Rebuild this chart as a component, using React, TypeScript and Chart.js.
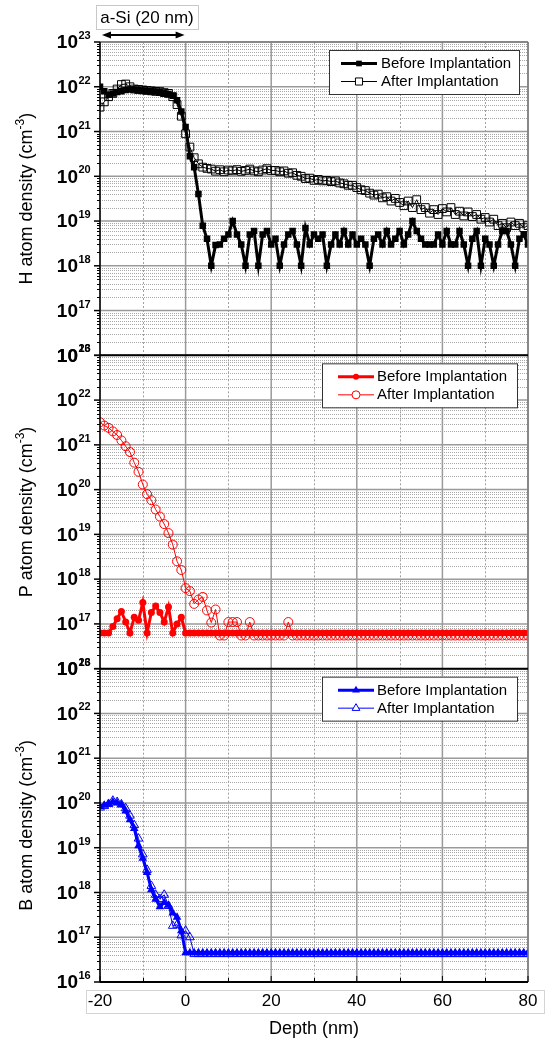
import { useEffect, useRef } from "react";
import { Chart, registerables } from "chart.js";

Chart.register(...registerables);

// ---------------- data ----------------
const depth = [
  -20, -19, -18, -17, -16, -15, -14, -13, -12, -11,
  -10, -9, -8, -7, -6, -5, -4, -3, -2, -1,
  0, 1, 2, 3, 4, 5, 6, 7, 8, 9,
  10, 11, 12, 13, 14, 15, 16, 17, 18, 19,
  20, 21, 22, 23, 24, 25, 26, 27, 28, 29,
  30, 31, 32, 33, 34, 35, 36, 37, 38, 39,
  40, 41, 42, 43, 44, 45, 46, 47, 48, 49,
  50, 51, 52, 53, 54, 55, 56, 57, 58, 59,
  60, 61, 62, 63, 64, 65, 66, 67, 68, 69,
  70, 71, 72, 73, 74, 75, 76, 77, 78, 79,
  80,
];

const hBefore = [
  1.0e22, 7.9e21, 6.6e21, 7.1e21, 7.6e21, 7.9e21, 8.5e21, 8.7e21, 8.7e21, 8.5e21,
  8.3e21, 8.1e21, 7.9e21, 7.8e21, 7.6e21, 7.2e21, 6.9e21, 6.3e21, 5.0e21, 2.8e21,
  1.26e21, 2.8e20, 1.6e20, 4.0e19, 7.9e18, 4.0e18, 1.0e18, 2.9e18, 3e18, 4e18,
  5e18, 1e19, 5e18, 3e18, 1e18, 5e18, 6e18, 1e18, 5e18, 6e18,
  3e18, 4e18, 1e18, 3e18, 5e18, 6e18, 3e18, 1e18, 7e18, 3e18,
  5e18, 4e18, 5e18, 1e18, 3e18, 5e18, 3e18, 6e18, 3e18, 5e18,
  3e18, 4e18, 3e18, 1e18, 4e18, 5e18, 3e18, 6e18, 3e18, 4e18,
  6e18, 3e18, 5e18, 1e19, 6e18, 4e18, 3e18, 3e18, 3e18, 5e18,
  3e18, 6e18, 3e18, 3e18, 6e18, 3e18, 1e18, 4e18, 6e18, 1e18,
  4e18, 3e18, 1e18, 3e18, 6e18, 6e18, 3e18, 1e18, 4e18, 5e18,
  3e18,
];

const hAfter = [
  3.5e21, 4.6e21, 6.0e21, 7.1e21, 8.9e21, 1.12e22, 1.15e22, 1.0e22, 8.9e21, 8.7e21,
  8.5e21, 8.3e21, 8.1e21, 7.9e21, 7.8e21, 7.4e21, 7.1e21, 6.0e21, 4.0e21, 2.2e21,
  8.9e20, 4.5e20, 2.6e20, 1.9e20, 1.6e20, 1.5e20, 1.45e20, 1.3e20, 1.4e20, 1.26e20,
  1.38e20, 1.32e20, 1.41e20, 1.29e20, 1.35e20, 1.45e20, 1.32e20, 1.26e20, 1.38e20, 1.48e20,
  1.35e20, 1.35e20, 1.26e20, 1.32e20, 1.17e20, 1.2e20, 1.05e20, 1.0e20, 8.9e19, 9.1e19,
  8.1e19, 8.5e19, 7.9e19, 8.1e19, 7.6e19, 7.9e19, 7.1e19, 6.8e19, 6.3e19, 6.3e19,
  5.6e19, 5.0e19, 4.8e19, 4.2e19, 3.8e19, 4.0e19, 3.3e19, 3.5e19, 2.8e19, 3.2e19,
  2.6e19, 2.2e19, 2.8e19, 2.0e19, 3.0e19, 1.8e19, 2.0e19, 1.5e19, 1.8e19, 1.4e19,
  1.9e19, 1.6e19, 2.0e19, 1.4e19, 1.66e19, 1.3e19, 1.6e19, 1.26e19, 1.4e19, 1.1e19,
  1.2e19, 9.5e18, 1.1e19, 7.9e18, 8.9e18, 7.1e18, 9.5e18, 7.9e18, 8.9e18, 7.1e18,
  7.9e18,
];

const pBefore = [
  6.3e16, 6.3e16, 6.3e16, 8.7e16, 1.3e17, 1.9e17, 1.1e17, 6.3e16, 1.4e17, 1.2e17,
  3.0e17, 6.3e16, 1.8e17, 2.5e17, 1.8e17, 1.1e17, 2.4e17, 6.3e16, 1.0e17, 1.4e17,
  6.3e16, 6.3e16, 6.3e16, 6.3e16, 6.3e16, 6.3e16, 6.3e16, 6.3e16, 6.3e16, 6.3e16,
  6.3e16, 6.3e16, 6.3e16, 6.3e16, 6.3e16, 6.3e16, 6.3e16, 6.3e16, 6.3e16, 6.3e16,
  6.3e16, 6.3e16, 6.3e16, 6.3e16, 6.3e16, 6.3e16, 6.3e16, 6.3e16, 6.3e16, 6.3e16,
  6.3e16, 6.3e16, 6.3e16, 6.3e16, 6.3e16, 6.3e16, 6.3e16, 6.3e16, 6.3e16, 6.3e16,
  6.3e16, 6.3e16, 6.3e16, 6.3e16, 6.3e16, 6.3e16, 6.3e16, 6.3e16, 6.3e16, 6.3e16,
  6.3e16, 6.3e16, 6.3e16, 6.3e16, 6.3e16, 6.3e16, 6.3e16, 6.3e16, 6.3e16, 6.3e16,
  6.3e16, 6.3e16, 6.3e16, 6.3e16, 6.3e16, 6.3e16, 6.3e16, 6.3e16, 6.3e16, 6.3e16,
  6.3e16, 6.3e16, 6.3e16, 6.3e16, 6.3e16, 6.3e16, 6.3e16, 6.3e16, 6.3e16, 6.3e16,
  6.3e16,
];

const pAfter = [
  3.2e21, 2.7e21, 2.4e21, 2.0e21, 1.66e21, 1.26e21, 9.3e20, 6.9e20, 4.0e20, 2.5e20,
  1.3e20, 7.9e19, 5.8e19, 3.6e19, 2.5e19, 1.7e19, 1.07e19, 5.9e18, 2.5e18, 1.6e18,
  6.3e17, 5.4e17, 2.8e17, 3.5e17, 4.0e17, 2.0e17, 1.07e17, 2.1e17, 5.5e16, 5.5e16,
  1.1e17, 1.1e17, 1.1e17, 5.5e16, 5.5e16, 1.1e17, 5.5e16, 5.5e16, 5.5e16, 5.5e16,
  5.5e16, 5.5e16, 5.5e16, 5.5e16, 1.1e17, 5.5e16, 5.5e16, 5.5e16, 5.5e16, 5.5e16,
  5.5e16, 5.5e16, 5.5e16, 5.5e16, 5.5e16, 5.5e16, 5.5e16, 5.5e16, 5.5e16, 5.5e16,
  5.5e16, 5.5e16, 5.5e16, 5.5e16, 5.5e16, 5.5e16, 5.5e16, 5.5e16, 5.5e16, 5.5e16,
  5.5e16, 5.5e16, 5.5e16, 5.5e16, 5.5e16, 5.5e16, 5.5e16, 5.5e16, 5.5e16, 5.5e16,
  5.5e16, 5.5e16, 5.5e16, 5.5e16, 5.5e16, 5.5e16, 5.5e16, 5.5e16, 5.5e16, 5.5e16,
  5.5e16, 5.5e16, 5.5e16, 5.5e16, 5.5e16, 5.5e16, 5.5e16, 5.5e16, 5.5e16, 5.5e16,
  5.5e16,
];

const bBefore = [
  8.3e19, 8.9e19, 9.5e19, 1.05e20, 1.0e20, 9.1e19, 6.6e19, 4.2e19, 2.7e19, 1.1e19,
  5.8e18, 2.8e18, 1.15e18, 7.1e17, 4.8e17, 6.0e17, 5.2e17, 3.5e17, 2.8e17, 1.4e17,
  4.5e16, 4.5e16, 4.5e16, 4.5e16, 4.5e16, 4.5e16, 4.5e16, 4.5e16, 4.5e16, 4.5e16,
  4.5e16, 4.5e16, 4.5e16, 4.5e16, 4.5e16, 4.5e16, 4.5e16, 4.5e16, 4.5e16, 4.5e16,
  4.5e16, 4.5e16, 4.5e16, 4.5e16, 4.5e16, 4.5e16, 4.5e16, 4.5e16, 4.5e16, 4.5e16,
  4.5e16, 4.5e16, 4.5e16, 4.5e16, 4.5e16, 4.5e16, 4.5e16, 4.5e16, 4.5e16, 4.5e16,
  4.5e16, 4.5e16, 4.5e16, 4.5e16, 4.5e16, 4.5e16, 4.5e16, 4.5e16, 4.5e16, 4.5e16,
  4.5e16, 4.5e16, 4.5e16, 4.5e16, 4.5e16, 4.5e16, 4.5e16, 4.5e16, 4.5e16, 4.5e16,
  4.5e16, 4.5e16, 4.5e16, 4.5e16, 4.5e16, 4.5e16, 4.5e16, 4.5e16, 4.5e16, 4.5e16,
  4.5e16, 4.5e16, 4.5e16, 4.5e16, 4.5e16, 4.5e16, 4.5e16, 4.5e16, 4.5e16, 4.5e16,
  4.5e16,
];

const bAfter = [
  7.9e19, 8.5e19, 9.5e19, 1.12e20, 1.05e20, 9.3e19, 7.6e19, 5.2e19, 3.2e19, 1.6e19,
  7.1e18, 3.2e18, 1.4e18, 8.9e17, 7.1e17, 8.9e17, 5.0e17, 1.8e17, 1.9e17, 1.1e17,
  1.4e17, 1.0e17, 4.2e16, 4.2e16, 4.2e16, 4.2e16, 4.2e16, 4.2e16, 4.2e16, 4.2e16,
  4.2e16, 4.2e16, 4.2e16, 4.2e16, 4.2e16, 4.2e16, 4.2e16, 4.2e16, 4.2e16, 4.2e16,
  4.2e16, 4.2e16, 4.2e16, 4.2e16, 4.2e16, 4.2e16, 4.2e16, 4.2e16, 4.2e16, 4.2e16,
  4.2e16, 4.2e16, 4.2e16, 4.2e16, 4.2e16, 4.2e16, 4.2e16, 4.2e16, 4.2e16, 4.2e16,
  4.2e16, 4.2e16, 4.2e16, 4.2e16, 4.2e16, 4.2e16, 4.2e16, 4.2e16, 4.2e16, 4.2e16,
  4.2e16, 4.2e16, 4.2e16, 4.2e16, 4.2e16, 4.2e16, 4.2e16, 4.2e16, 4.2e16, 4.2e16,
  4.2e16, 4.2e16, 4.2e16, 4.2e16, 4.2e16, 4.2e16, 4.2e16, 4.2e16, 4.2e16, 4.2e16,
  4.2e16, 4.2e16, 4.2e16, 4.2e16, 4.2e16, 4.2e16, 4.2e16, 4.2e16, 4.2e16, 4.2e16,
  4.2e16,
];

const decadeExponents = [16, 17, 18, 19, 20, 21, 22, 23];
const minorMultipliers = [2, 3, 4, 5, 6, 7, 8, 9];
const xMajorTicks = [-20, 0, 20, 40, 60, 80];
const xMinorTicks = [-10, 10, 30, 50, 70];
const yIds = ["yH", "yP", "yB"];
const yTitles = ["H atom density (cm", "P atom density (cm", "B atom density (cm"];
const panelColors = ["#000000", "#ff0000", "#0000ff"];
const panelMarkers = ["rect", "circle", "triangle"];
const legendLabels = ["Before Implantation", "After Implantation"];
const annotationText = "a-Si (20 nm)";
const xTitle = "Depth (nm)";

const FONT = "'Liberation Sans', Arial, Helvetica, sans-serif";

// ---------------- helpers ----------------
function drawMarker(ctx: CanvasRenderingContext2D, style: string, x: number, y: number, r: number, filled: boolean, color: string) {
  ctx.beginPath();
  if (style === "rect") {
    const s = Math.SQRT1_2 * r;
    ctx.rect(x - s, y - s, 2 * s, 2 * s);
  } else if (style === "circle") {
    ctx.arc(x, y, r, 0, Math.PI * 2);
  } else {
    let rad = 0;
    ctx.moveTo(x + Math.sin(rad) * r, y - Math.cos(rad) * r);
    rad += (2 * Math.PI) / 3;
    ctx.lineTo(x + Math.sin(rad) * r, y - Math.cos(rad) * r);
    rad += (2 * Math.PI) / 3;
    ctx.lineTo(x + Math.sin(rad) * r, y - Math.cos(rad) * r);
    ctx.closePath();
  }
  if (filled) {
    ctx.fillStyle = color;
    ctx.fill();
  } else {
    ctx.fillStyle = "#ffffff";
    ctx.fill();
    ctx.strokeStyle = color;
    ctx.lineWidth = 1;
    ctx.stroke();
  }
}

function hLine(ctx: CanvasRenderingContext2D, x1: number, x2: number, y: number) {
  ctx.beginPath();
  ctx.moveTo(x1, y);
  ctx.lineTo(x2, y);
  ctx.stroke();
}
function vLine(ctx: CanvasRenderingContext2D, x: number, y1: number, y2: number) {
  ctx.beginPath();
  ctx.moveTo(x, y1);
  ctx.lineTo(x, y2);
  ctx.stroke();
}

const legendBoxes = [
  { left: 329, width: 190, lineFrom: 12, lineTo: 48, textAt: 52 },
  { left: 322, width: 195, lineFrom: 16, lineTo: 52, textAt: 55 },
  { left: 322, width: 195, lineFrom: 16, lineTo: 52, textAt: 55 },
];

const decorPlugin = {
  id: "decor",
  beforeDatasetsDraw(chart: any) {
    const ctx: CanvasRenderingContext2D = chart.ctx;
    const { left, right } = chart.chartArea;
    const xs = chart.scales.x;
    ctx.save();
    for (const id of yIds) {
      const ys = chart.scales[id];
      const top = ys.top;
      const bottom = ys.bottom;
      // minor horizontal
      ctx.setLineDash([1, 1]);
      ctx.strokeStyle = "#a8a8a8";
      ctx.lineWidth = 1;
      for (let k = 0; k < decadeExponents.length - 1; k++) {
        for (const m of minorMultipliers) {
          const y = Math.round(ys.getPixelForValue(m * Math.pow(10, decadeExponents[k]))) + 0.5;
          hLine(ctx, left, right, y);
        }
      }
      // minor vertical
      ctx.setLineDash([2, 2]);
      ctx.strokeStyle = "#a0a0a0";
      for (const v of xMinorTicks) {
        const x = Math.round(xs.getPixelForValue(v)) + 0.5;
        vLine(ctx, x, top, bottom);
      }
      // major
      ctx.setLineDash([]);
      ctx.strokeStyle = "#9a9a9a";
      ctx.lineWidth = 1.5;
      for (const e of decadeExponents) {
        const y = ys.getPixelForValue(Math.pow(10, e));
        hLine(ctx, left, right, y);
      }
      for (const v of xMajorTicks) {
        const x = xs.getPixelForValue(v);
        vLine(ctx, x, top, bottom);
      }
    }
    ctx.restore();
  },
  afterDatasetsDraw(chart: any) {
    const ctx: CanvasRenderingContext2D = chart.ctx;
    const { left, right, top, bottom } = chart.chartArea;
    const xs = chart.scales.x;
    ctx.save();
    ctx.setLineDash([]);

    // frame
    ctx.strokeStyle = "#7a7a7a";
    ctx.lineWidth = 1.5;
    hLine(ctx, left, right, top);
    vLine(ctx, right, top, bottom);

    yIds.forEach((id, pi) => {
      const ys = chart.scales[id];
      const cy = (ys.top + ys.bottom) / 2;
      // left axis ticks
      ctx.strokeStyle = "#000";
      ctx.lineWidth = 1;
      for (let k = 0; k < decadeExponents.length - 1; k++) {
        for (const m of minorMultipliers) {
          const y = Math.round(ys.getPixelForValue(m * Math.pow(10, decadeExponents[k]))) + 0.5;
          hLine(ctx, left - 3, left, y);
        }
      }
      ctx.lineWidth = 1.5;
      for (const e of decadeExponents) {
        const y = ys.getPixelForValue(Math.pow(10, e));
        hLine(ctx, left - 6, left, y);
      }
      // tick labels
      ctx.fillStyle = "#000";
      for (const e of decadeExponents) {
        const y = ys.getPixelForValue(Math.pow(10, e));
        ctx.font = `bold 19px ${FONT}`;
        ctx.textAlign = "right";
        ctx.textBaseline = "middle";
        ctx.fillText("10", 78, y + 1);
        ctx.font = `bold 11px ${FONT}`;
        ctx.textAlign = "left";
        ctx.textBaseline = "alphabetic";
        ctx.fillText(String(e), 78.5, y - 3);
      }
      // y title
      ctx.save();
      ctx.translate(32, cy);
      ctx.rotate(-Math.PI / 2);
      ctx.font = `18px ${FONT}`;
      const w1 = ctx.measureText(yTitles[pi]).width;
      ctx.font = `12px ${FONT}`;
      const w2 = ctx.measureText("-3").width;
      ctx.font = `18px ${FONT}`;
      const w3 = ctx.measureText(")").width;
      let x0 = -(w1 + w2 + w3) / 2;
      ctx.textAlign = "left";
      ctx.textBaseline = "alphabetic";
      ctx.fillText(yTitles[pi], x0, 0);
      x0 += w1;
      ctx.font = `12px ${FONT}`;
      ctx.fillText("-3", x0, -8);
      x0 += w2;
      ctx.font = `18px ${FONT}`;
      ctx.fillText(")", x0, 0);
      ctx.restore();

      // panel bottom line
      ctx.strokeStyle = "#000";
      ctx.lineWidth = 2;
      hLine(ctx, left, right, ys.bottom);

      // legend
      const lb = legendBoxes[pi];
      const bt = ys.top + 8;
      ctx.fillStyle = "#fff";
      ctx.fillRect(lb.left, bt, lb.width, 44);
      ctx.strokeStyle = "#333";
      ctx.lineWidth = 1;
      ctx.strokeRect(lb.left + 0.5, bt + 0.5, lb.width, 44);
      const color = panelColors[pi];
      const rows = [bt + 13.5, bt + 31.5];
      rows.forEach((ry, ri) => {
        ctx.strokeStyle = color;
        ctx.lineWidth = ri === 0 ? 3 : 1;
        hLine(ctx, lb.left + lb.lineFrom, lb.left + lb.lineTo, ry);
        const mx = lb.left + (lb.lineFrom + lb.lineTo) / 2;
        const r = panelMarkers[pi] === "rect" ? (ri === 0 ? 4 : 5) : panelMarkers[pi] === "circle" ? (ri === 0 ? 3 : 4) : 4.5;
        drawMarker(ctx, panelMarkers[pi], mx, ry, r, ri === 0, color);
        ctx.fillStyle = "#000";
        ctx.font = `15px ${FONT}`;
        ctx.textAlign = "left";
        ctx.textBaseline = "middle";
        ctx.fillText(legendLabels[ri], lb.left + lb.textAt, ry + 0.5);
      });
    });

    // left axis & bottom axis
    ctx.strokeStyle = "#000";
    ctx.lineWidth = 1.5;
    vLine(ctx, left, top, bottom);
    hLine(ctx, left, right, bottom);
    ctx.lineWidth = 1;
    for (const v of xMinorTicks) {
      const x = Math.round(xs.getPixelForValue(v)) + 0.5;
      vLine(ctx, x, bottom, bottom - 4);
    }
    for (const v of xMajorTicks) {
      const x = xs.getPixelForValue(v);
      vLine(ctx, x, bottom, bottom - 6);
    }

    // x tick label box
    ctx.strokeStyle = "#d4d4d4";
    ctx.lineWidth = 1;
    ctx.strokeRect(86.5, 990.5, 458, 23);
    ctx.fillStyle = "#000";
    ctx.font = `17px ${FONT}`;
    ctx.textAlign = "center";
    ctx.textBaseline = "middle";
    for (const v of xMajorTicks) {
      ctx.fillText(String(v), xs.getPixelForValue(v), 1001);
    }
    ctx.font = `18px ${FONT}`;
    ctx.textBaseline = "alphabetic";
    ctx.fillText(xTitle, (left + right) / 2, 1034);

    // annotation
    ctx.fillStyle = "#fff";
    ctx.fillRect(96, 5, 102, 24);
    ctx.strokeStyle = "#c8c8c8";
    ctx.strokeRect(96.5, 5.5, 102, 24);
    ctx.fillStyle = "#000";
    ctx.font = `17px ${FONT}`;
    ctx.textAlign = "center";
    ctx.textBaseline = "middle";
    ctx.fillText(annotationText, 147, 18);
    const ax1 = xs.getPixelForValue(-20) + 2;
    const ax2 = xs.getPixelForValue(0) - 1;
    const ay = 35;
    ctx.strokeStyle = "#000";
    ctx.lineWidth = 2;
    hLine(ctx, ax1 + 6, ax2 - 6, ay);
    ctx.beginPath();
    ctx.moveTo(ax1, ay);
    ctx.lineTo(ax1 + 9, ay - 3.5);
    ctx.lineTo(ax1 + 9, ay + 3.5);
    ctx.closePath();
    ctx.fill();
    ctx.beginPath();
    ctx.moveTo(ax2, ay);
    ctx.lineTo(ax2 - 9, ay - 3.5);
    ctx.lineTo(ax2 - 9, ay + 3.5);
    ctx.closePath();
    ctx.fill();

    ctx.restore();
  },
};

function pts(values: number[]) {
  return depth.map((d, i) => ({ x: d, y: values[i] }));
}

export default function App() {
  const ref = useRef<HTMLCanvasElement>(null);
  useEffect(() => {
    const canvas = ref.current;
    if (!canvas) return;
    const hidden = {
      ticks: { display: false },
      grid: { display: false, drawTicks: false, tickLength: 0 },
      border: { display: false },
    };
    const yAxis = (weight: number) => ({
      type: "logarithmic" as const,
      min: 1e16,
      max: 1e23,
      position: "left" as const,
      stack: "panels",
      stackWeight: 1,
      weight,
      ...hidden,
    });
    const chart = new Chart(canvas, {
      type: "line",
      data: {
        datasets: [
          {
            label: legendLabels[0], yAxisID: "yH", data: pts(hBefore),
            borderColor: panelColors[0], borderWidth: 3, pointStyle: "rect",
            pointRadius: 4.6, pointBackgroundColor: panelColors[0], pointBorderColor: panelColors[0], pointBorderWidth: 0,
          },
          {
            label: legendLabels[1], yAxisID: "yH", data: pts(hAfter),
            borderColor: panelColors[0], borderWidth: 1, pointStyle: "rect",
            pointRadius: 5.5, pointBackgroundColor: "rgba(0,0,0,0)", pointBorderColor: panelColors[0], pointBorderWidth: 1,
          },
          {
            label: legendLabels[0], yAxisID: "yP", data: pts(pBefore),
            borderColor: panelColors[1], borderWidth: 3, pointStyle: "circle",
            pointRadius: 3.5, pointBackgroundColor: panelColors[1], pointBorderColor: panelColors[1], pointBorderWidth: 0,
          },
          {
            label: legendLabels[1], yAxisID: "yP", data: pts(pAfter),
            borderColor: panelColors[1], borderWidth: 1, pointStyle: "circle",
            pointRadius: 4.5, pointBackgroundColor: "rgba(0,0,0,0)", pointBorderColor: panelColors[1], pointBorderWidth: 1,
          },
          {
            label: legendLabels[0], yAxisID: "yB", data: pts(bBefore),
            borderColor: panelColors[2], borderWidth: 3, pointStyle: "triangle",
            pointRadius: 5, pointBackgroundColor: panelColors[2], pointBorderColor: panelColors[2], pointBorderWidth: 0,
          },
          {
            label: legendLabels[1], yAxisID: "yB", data: pts(bAfter),
            borderColor: panelColors[2], borderWidth: 1, pointStyle: "triangle",
            pointRadius: 5, pointBackgroundColor: "rgba(0,0,0,0)", pointBorderColor: panelColors[2], pointBorderWidth: 1,
          },
        ],
      },
      options: {
        responsive: false,
        animation: false,
        devicePixelRatio: 1,
        layout: { padding: { left: 100, right: 17, top: 42, bottom: 62 } },
        plugins: { legend: { display: false }, tooltip: { enabled: false } },
        elements: { line: { tension: 0 } },
        scales: {
          x: { type: "linear", min: -20, max: 80, ...hidden },
          yH: yAxis(3),
          yP: yAxis(2),
          yB: yAxis(1),
        },
      },
      plugins: [decorPlugin],
    } as any);
    return () => chart.destroy();
  }, []);
  return (
    <div style={{ position: "absolute", left: 0, top: 0, width: 545, height: 1044, background: "#fff" }}>
      <canvas ref={ref} width={545} height={1044} style={{ width: 545, height: 1044, display: "block" }} />
    </div>
  );
}
